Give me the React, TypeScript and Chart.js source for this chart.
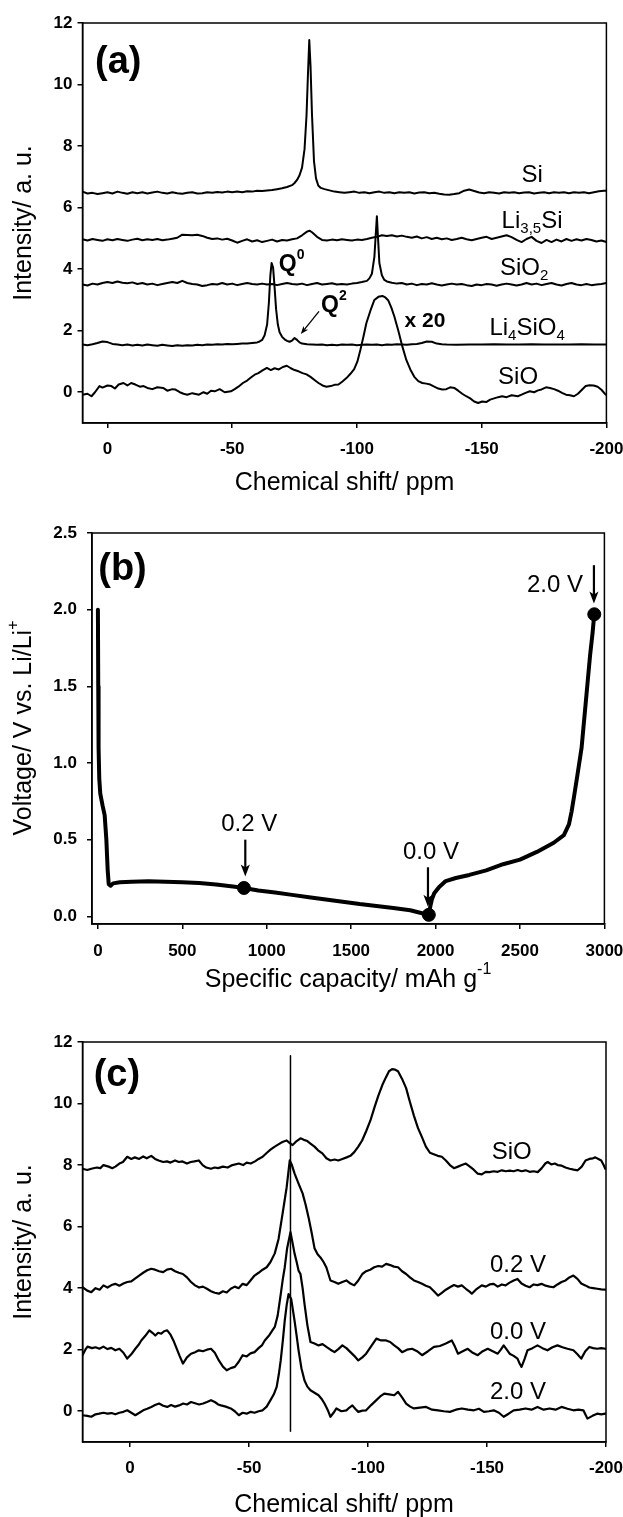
import React, { useEffect, useRef } from 'react';
import { Chart, registerables } from 'chart.js';

Chart.register(...registerables);

type Pt = [number, number];
type Part = { t: string; s?: 'sub' | 'sup' };

const FONT = '"Liberation Sans", Arial, Helvetica, sans-serif';

// ---------------- Panel (a) data: 29Si NMR of references ----------------
const ppmTicksA = [0, -50, -100, -150, -200];
const intensityTicks = [0, 2, 4, 6, 8, 10, 12];

const specSi: Pt[] = [[10,6.52],[8,6.46],[6,6.48],[4,6.44],[2,6.47],[0,6.5],[-2,6.46],[-4,6.52],[-6,6.48],[-8,6.45],[-10,6.5],[-12,6.47],[-14,6.5],[-16,6.46],[-18,6.49],[-20,6.52],[-22,6.48],[-24,6.46],[-26,6.5],[-28,6.47],[-30,6.45],[-32,6.48],[-34,6.5],[-36,6.46],[-38,6.47],[-40,6.5],[-42,6.48],[-44,6.51],[-46,6.49],[-48,6.52],[-50,6.5],[-52,6.52],[-54,6.5],[-56,6.53],[-58,6.52],[-60,6.55],[-62,6.54],[-64,6.56],[-66,6.57],[-68,6.6],[-70,6.63],[-72,6.67],[-74,6.73],[-75,6.8],[-76,6.9],[-77,7.05],[-78,7.3],[-79,7.9],[-79.8,9.0],[-80.4,10.4],[-80.9,11.45],[-81.4,10.6],[-82,9.0],[-82.8,7.5],[-83.6,6.95],[-84.5,6.72],[-85.5,6.64],[-87,6.6],[-89,6.56],[-91,6.52],[-93,6.5],[-95,6.48],[-97,6.5],[-99,6.52],[-101,6.48],[-103,6.5],[-105,6.47],[-107,6.5],[-109,6.52],[-111,6.48],[-113,6.5],[-115,6.47],[-117,6.5],[-119,6.48],[-121,6.5],[-123,6.46],[-125,6.49],[-127,6.5],[-129,6.47],[-131,6.48],[-133,6.45],[-135,6.43],[-137,6.42],[-139,6.44],[-141,6.47],[-143,6.55],[-145,6.59],[-147,6.54],[-149,6.49],[-151,6.47],[-153,6.5],[-155,6.48],[-157,6.46],[-159,6.5],[-161,6.48],[-163,6.5],[-165,6.47],[-167,6.49],[-169,6.5],[-171,6.46],[-173,6.48],[-175,6.5],[-177,6.47],[-179,6.5],[-181,6.48],[-183,6.5],[-185,6.47],[-187,6.5],[-189,6.48],[-191,6.5],[-193,6.47],[-195,6.5],[-197,6.53],[-199,6.55],[-200,6.55]];

const specLi35Si: Pt[] = [[10,4.97],[8,4.93],[6,4.98],[4,4.95],[2,4.92],[0,4.97],[-2,4.94],[-4,4.98],[-6,4.95],[-8,4.92],[-10,4.96],[-12,4.99],[-14,4.94],[-16,4.97],[-18,4.95],[-20,4.98],[-22,4.94],[-24,4.96],[-26,4.99],[-28,5.02],[-30,5.12],[-32,5.11],[-34,5.1],[-36,5.12],[-38,5.08],[-40,5.02],[-42,4.98],[-44,5.0],[-46,4.96],[-48,4.99],[-50,4.93],[-52,4.86],[-54,4.92],[-56,4.97],[-58,4.9],[-60,4.94],[-62,4.88],[-64,4.92],[-66,4.96],[-68,4.9],[-70,4.95],[-72,4.93],[-74,4.97],[-76,5.0],[-78,5.1],[-80,5.22],[-81,5.25],[-82,5.2],[-84,5.05],[-86,4.95],[-88,4.93],[-90,4.96],[-92,4.94],[-94,4.97],[-96,4.95],[-98,4.93],[-100,4.96],[-102,4.95],[-104,4.98],[-106,5.02],[-108,5.05],[-110,5.1],[-112,5.08],[-114,5.1],[-116,5.06],[-118,5.09],[-120,5.05],[-122,5.02],[-124,5.06],[-126,5.0],[-128,5.04],[-130,4.98],[-132,5.02],[-134,4.97],[-136,5.0],[-138,4.95],[-140,4.98],[-142,5.02],[-144,4.97],[-146,4.94],[-148,4.98],[-150,5.02],[-152,5.05],[-154,4.98],[-156,5.02],[-158,5.06],[-160,5.1],[-162,5.04],[-164,4.95],[-166,4.88],[-168,4.98],[-170,5.05],[-172,4.92],[-174,4.85],[-176,4.95],[-178,4.88],[-180,4.96],[-182,4.9],[-184,4.98],[-186,4.92],[-188,4.97],[-190,4.93],[-192,4.98],[-194,4.95],[-196,4.9],[-198,4.93],[-200,4.88]];

const specSiO2: Pt[] = [[10,3.5],[8,3.47],[6,3.53],[4,3.5],[2,3.55],[0,3.58],[-2,3.55],[-4,3.6],[-6,3.56],[-8,3.54],[-10,3.57],[-12,3.52],[-14,3.55],[-16,3.5],[-18,3.53],[-20,3.48],[-22,3.52],[-24,3.55],[-26,3.58],[-28,3.55],[-30,3.62],[-32,3.55],[-34,3.52],[-36,3.5],[-38,3.45],[-40,3.48],[-42,3.52],[-44,3.5],[-46,3.55],[-48,3.5],[-50,3.53],[-52,3.48],[-54,3.52],[-56,3.55],[-58,3.52],[-60,3.5],[-62,3.53],[-64,3.5],[-66,3.52],[-68,3.48],[-70,3.52],[-72,3.55],[-74,3.52],[-76,3.5],[-78,3.53],[-80,3.48],[-82,3.52],[-84,3.55],[-86,3.5],[-88,3.52],[-90,3.54],[-92,3.5],[-94,3.52],[-96,3.5],[-98,3.53],[-100,3.55],[-102,3.58],[-104,3.62],[-105,3.7],[-106,3.85],[-107,4.4],[-107.6,5.2],[-108,5.72],[-108.4,5.1],[-109,4.2],[-110,3.8],[-111,3.65],[-112,3.6],[-114,3.56],[-116,3.53],[-118,3.55],[-120,3.5],[-122,3.53],[-124,3.48],[-126,3.52],[-128,3.5],[-130,3.54],[-132,3.5],[-134,3.47],[-136,3.5],[-138,3.53],[-140,3.5],[-142,3.52],[-144,3.48],[-146,3.45],[-148,3.5],[-150,3.48],[-152,3.52],[-154,3.5],[-156,3.46],[-158,3.5],[-160,3.53],[-162,3.5],[-164,3.47],[-166,3.5],[-168,3.55],[-170,3.5],[-172,3.53],[-174,3.48],[-176,3.52],[-178,3.55],[-180,3.5],[-182,3.47],[-184,3.52],[-186,3.55],[-188,3.5],[-190,3.48],[-192,3.52],[-194,3.48],[-196,3.5],[-198,3.52],[-200,3.55]];

const specLi4SiO4: Pt[] = [[10,1.55],[8,1.53],[6,1.56],[4,1.6],[2,1.65],[0,1.63],[-2,1.57],[-4,1.55],[-6,1.53],[-8,1.55],[-10,1.52],[-12,1.54],[-14,1.52],[-16,1.55],[-18,1.53],[-20,1.51],[-22,1.54],[-24,1.52],[-26,1.5],[-28,1.53],[-30,1.51],[-32,1.53],[-34,1.52],[-36,1.54],[-38,1.53],[-40,1.55],[-42,1.54],[-44,1.56],[-46,1.55],[-48,1.57],[-50,1.56],[-52,1.57],[-54,1.58],[-56,1.58],[-58,1.6],[-60,1.62],[-61,1.65],[-62,1.7],[-63,1.85],[-64,2.2],[-64.7,2.9],[-65.3,3.8],[-65.8,4.2],[-66.4,4.05],[-67,3.4],[-67.6,2.7],[-68.3,2.2],[-69,1.95],[-70,1.8],[-71,1.72],[-72,1.67],[-73,1.64],[-74,1.68],[-75,1.76],[-76,1.7],[-77,1.62],[-78,1.58],[-80,1.56],[-82,1.55],[-84,1.54],[-86,1.55],[-88,1.53],[-90,1.54],[-92,1.53],[-94,1.55],[-96,1.54],[-98,1.55],[-100,1.53],[-102,1.54],[-104,1.55],[-106,1.54],[-108,1.55],[-110,1.53],[-112,1.55],[-114,1.54],[-116,1.56],[-118,1.55],[-120,1.54],[-122,1.56],[-124,1.57],[-126,1.6],[-128,1.65],[-130,1.64],[-132,1.58],[-134,1.56],[-136,1.55],[-140,1.54],[-145,1.55],[-150,1.55],[-155,1.56],[-160,1.55],[-165,1.55],[-170,1.56],[-175,1.55],[-180,1.55],[-185,1.55],[-190,1.56],[-195,1.55],[-200,1.55]];

const specSiOx20: Pt[] = [[10,-0.08],[8,-0.05],[6.4,-0.13],[5,0.0],[3.2,0.2],[2,0.15],[0,0.22],[-1.6,0.2],[-3,0.12],[-4.5,0.25],[-6.4,0.3],[-8,0.22],[-9.5,0.3],[-11.2,0.25],[-13,0.18],[-14.5,0.2],[-16,0.14],[-18,0.1],[-20,0.16],[-22.3,0.14],[-24,0.05],[-26,0.1],[-27.1,0.09],[-29,0.0],[-30.5,-0.05],[-32,-0.08],[-34,-0.03],[-36.7,-0.08],[-38.5,0.0],[-40,-0.05],[-41.5,0.05],[-43,0.03],[-45,0.1],[-47,0.0],[-49.5,0.03],[-51,0.1],[-52.5,0.18],[-54.3,0.3],[-56,0.38],[-57.5,0.48],[-59,0.57],[-60.5,0.62],[-62,0.7],[-63.9,0.79],[-65.5,0.72],[-67,0.78],[-68.7,0.74],[-70.3,0.82],[-71.9,0.86],[-73.5,0.78],[-75,0.72],[-76.6,0.68],[-78.2,0.62],[-79.8,0.58],[-81.4,0.5],[-83,0.4],[-84.6,0.3],[-86.2,0.22],[-87.8,0.18],[-89.5,0.2],[-91,0.24],[-92.6,0.25],[-94.2,0.35],[-95.8,0.46],[-97.4,0.6],[-98.9,0.75],[-100.2,1.0],[-101.4,1.38],[-102.6,1.8],[-103.8,2.25],[-105.4,2.65],[-107,3.0],[-108.6,3.1],[-110.2,3.13],[-111.4,3.08],[-112.6,2.98],[-113.8,2.75],[-115,2.46],[-116.6,2.0],[-118.2,1.49],[-119.8,1.05],[-121.4,0.74],[-123,0.5],[-124.6,0.36],[-126.2,0.3],[-127.8,0.28],[-129.4,0.25],[-131,0.18],[-132.6,0.12],[-134.2,0.09],[-135.8,0.1],[-137.4,0.16],[-139,0.14],[-140.6,0.05],[-142.2,-0.05],[-143.8,-0.13],[-145.4,-0.2],[-147,-0.3],[-148.6,-0.35],[-150.2,-0.3],[-151.8,-0.32],[-153.4,-0.24],[-155,-0.2],[-156.6,-0.16],[-158.2,-0.13],[-160,-0.16],[-162,-0.1],[-164.5,-0.13],[-166,-0.08],[-167.6,-0.02],[-169.3,0.03],[-171,0.0],[-172.6,0.06],[-174,0.09],[-175.8,0.16],[-177.4,0.14],[-179,0.1],[-180.6,0.05],[-182.2,-0.02],[-183.8,-0.08],[-185.4,-0.1],[-187,-0.13],[-188.6,-0.05],[-190.2,0.08],[-191.7,0.2],[-193.3,0.23],[-194.9,0.22],[-196.5,0.18],[-198,0.08],[-199.7,-0.08]];

// ---------------- Panel (b) data: voltage profile ----------------
const capacityTicks = [0, 500, 1000, 1500, 2000, 2500, 3000];
const voltageTicks = [0, 0.5, 1.0, 1.5, 2.0, 2.5];
const dischargeCurve: Pt[] = [[0,2.0],[2,1.5],[4,1.1],[8,0.9],[14,0.8],[28,0.72],[40,0.66],[50,0.5],[58,0.3],[64,0.21],[75,0.2],[90,0.215],[130,0.222],[200,0.226],[300,0.228],[400,0.226],[500,0.222],[600,0.217],[700,0.208],[800,0.195],[865,0.185],[950,0.168],[1050,0.155],[1150,0.14],[1250,0.125],[1350,0.11],[1450,0.095],[1550,0.08],[1650,0.068],[1750,0.055],[1850,0.04],[1920,0.02],[1960,0.005]];
const chargeCurve: Pt[] = [[1960,0.01],[1968,0.06],[1978,0.11],[1992,0.15],[2020,0.19],[2060,0.23],[2120,0.25],[2200,0.27],[2300,0.3],[2400,0.34],[2500,0.37],[2600,0.42],[2700,0.48],[2760,0.53],[2790,0.6],[2805,0.68],[2820,0.78],[2840,0.92],[2865,1.1],[2890,1.4],[2915,1.7],[2930,1.85],[2940,1.97]];
const samplingPoints: Pt[] = [[865,0.185],[1960,0.01],[2940,1.97]];

// ---------------- Panel (c) data: ex-situ spectra ----------------
const ppmTicksC = [0, -50, -100, -150, -200];
const specCSiO: Pt[] = [[20,7.88],[18,7.84],[16.3,7.88],[14,7.92],[12.5,7.9],[11.2,8.0],[9,7.95],[7.5,7.9],[6.2,7.95],[4.5,8.05],[3,8.1],[1.2,8.27],[-0.5,8.2],[-2,8.25],[-3.8,8.2],[-5.5,8.28],[-7,8.22],[-8.9,8.3],[-10.5,8.2],[-12,8.15],[-13.9,8.1],[-15.5,8.12],[-17,8.08],[-18.9,8.15],[-20.5,8.1],[-22,8.12],[-23.9,8.05],[-25.5,8.1],[-27,8.12],[-28.9,8.15],[-30.5,8.0],[-32,7.92],[-34,7.88],[-35.5,7.92],[-37,7.9],[-39,7.95],[-41,7.92],[-43,8.0],[-45.7,8.05],[-47.5,8.0],[-49,8.08],[-50.7,8.05],[-52.5,8.12],[-54,8.2],[-55.7,8.27],[-57.5,8.4],[-59,8.5],[-60.8,8.6],[-62.5,8.68],[-64,8.75],[-65.8,8.8],[-67,8.72],[-68.3,8.65],[-70,8.78],[-71.6,8.87],[-73,8.82],[-74.5,8.78],[-75.8,8.7],[-77.5,8.6],[-79,8.48],[-80.8,8.38],[-82.5,8.22],[-84.2,8.15],[-86,8.18],[-87.5,8.15],[-89.2,8.2],[-91,8.25],[-92.6,8.3],[-94.2,8.42],[-95.9,8.6],[-97.5,8.8],[-99.2,9.1],[-101,9.45],[-102.6,9.85],[-104.3,10.25],[-106,10.6],[-107.5,10.85],[-108.8,11.05],[-110.1,11.12],[-111.4,11.1],[-112.6,11.05],[-114.3,10.8],[-116,10.5],[-117.6,10.05],[-119.3,9.6],[-121,9.2],[-122.7,8.9],[-124.3,8.6],[-126,8.4],[-127.6,8.35],[-129.3,8.3],[-131,8.27],[-132.7,8.15],[-134.4,8.0],[-136.1,7.9],[-137.8,7.95],[-139.4,8.0],[-141.1,8.05],[-142.8,7.95],[-144.4,7.85],[-146.1,7.72],[-147.8,7.7],[-149.4,7.78],[-151.1,7.77],[-152.8,7.8],[-154.5,7.78],[-156.2,7.83],[-157.9,7.8],[-159.5,7.82],[-161.2,7.8],[-162.9,7.84],[-164.5,7.8],[-166.2,7.83],[-167.9,7.78],[-169.6,7.8],[-171.3,7.77],[-173,7.9],[-174.5,8.05],[-175.5,8.1],[-177,8.02],[-178.5,8.05],[-179.7,8.0],[-181.4,7.98],[-183,7.92],[-184.7,7.88],[-186.4,7.85],[-188.1,7.83],[-189.8,7.95],[-191.4,8.15],[-193,8.2],[-194.5,8.22],[-195.5,8.25],[-196.8,8.2],[-198,8.15],[-199,8.0],[-199.7,7.88]];

const specC02V: Pt[] = [[20,4.03],[18,3.92],[16.3,3.87],[14.5,4.0],[12.8,3.95],[11.2,4.09],[9.5,4.02],[7.8,4.1],[6.2,4.14],[4.5,4.08],[2.8,4.15],[1.2,4.2],[-0.5,4.22],[-2.2,4.32],[-3.8,4.41],[-5.5,4.5],[-7.2,4.58],[-8.9,4.63],[-10.5,4.6],[-12.2,4.55],[-13.9,4.52],[-15.5,4.6],[-17.2,4.63],[-18.9,4.55],[-20.5,4.5],[-22.2,4.46],[-23.9,4.35],[-25.6,4.2],[-27.3,4.09],[-29,4.02],[-30.6,4.05],[-32.3,3.98],[-34,3.9],[-35.6,3.85],[-37.3,3.82],[-39,3.9],[-40.6,3.86],[-42.3,3.98],[-44,4.05],[-45.6,4.0],[-47.3,4.14],[-49,4.1],[-50.6,4.25],[-52.3,4.41],[-54,4.5],[-55.7,4.6],[-57.4,4.68],[-59,4.85],[-60.8,5.13],[-62.4,5.6],[-64.1,6.43],[-65.8,7.28],[-67.1,8.15],[-68,8.0],[-69.1,7.73],[-70.8,7.4],[-72.5,7.08],[-73.8,6.7],[-75,6.3],[-76.3,5.8],[-77.5,5.3],[-78.8,5.1],[-80,5.0],[-81.3,4.85],[-82.5,4.67],[-84.2,4.25],[-85.9,4.2],[-87.5,4.14],[-89.2,4.2],[-90.9,4.25],[-92.6,4.15],[-94.2,4.09],[-95.9,4.25],[-97.6,4.46],[-99.2,4.55],[-100.9,4.6],[-102.6,4.68],[-104.3,4.72],[-105.9,4.7],[-107.6,4.79],[-109.3,4.75],[-110.9,4.7],[-112.6,4.68],[-114.3,4.55],[-116,4.46],[-117.6,4.35],[-119.3,4.25],[-121,4.2],[-122.7,4.14],[-124.3,4.08],[-126,4.03],[-127.7,3.9],[-129.4,3.76],[-131,3.85],[-132.7,3.95],[-134.4,4.03],[-136.1,4.1],[-137.8,4.05],[-139.4,4.09],[-141.1,3.98],[-142.8,3.88],[-143.6,3.82],[-145.3,3.95],[-147.8,4.09],[-149.5,4.05],[-151.1,4.12],[-152.8,4.14],[-154.5,4.05],[-156.2,4.12],[-157.8,4.09],[-159.5,4.18],[-161.2,4.25],[-162.8,4.3],[-164.5,4.15],[-166.2,4.08],[-167.9,4.03],[-169.6,4.12],[-171.2,4.1],[-172.9,4.14],[-174.6,4.08],[-176.3,4.05],[-177.9,4.03],[-179.6,4.12],[-181.3,4.2],[-183,4.25],[-184.6,4.35],[-186.3,4.41],[-188,4.3],[-189.6,4.15],[-191.3,4.09],[-193,4.02],[-194.6,4.0],[-196.3,3.98],[-198,3.96],[-199.7,3.95]];

const specC00V: Pt[] = [[20,1.82],[18.8,2.0],[17.9,2.1],[16,2.05],[14.5,2.08],[12.9,2.03],[11.2,2.1],[9.5,2.02],[7.9,2.06],[6.2,1.98],[4.5,2.03],[2.8,1.9],[1.2,1.71],[-0.5,1.85],[-2.2,2.03],[-3.5,2.15],[-4.7,2.3],[-6.4,2.45],[-8.1,2.63],[-9.4,2.55],[-10.6,2.46],[-11.8,2.55],[-13.1,2.52],[-14.3,2.6],[-15.6,2.63],[-16.9,2.5],[-18.2,2.3],[-19.5,2.05],[-20.8,1.8],[-22.2,1.55],[-23.9,1.75],[-25.6,1.87],[-27.3,1.92],[-28.9,1.98],[-30.6,1.95],[-32.3,2.0],[-34,2.03],[-35.6,1.9],[-37.3,1.65],[-39,1.45],[-40.6,1.33],[-42.3,1.4],[-44,1.44],[-45.6,1.6],[-47.3,1.82],[-49,1.78],[-50.6,1.88],[-52.3,1.92],[-54,2.05],[-55.5,2.15],[-56.6,2.3],[-58.3,2.45],[-59.6,2.6],[-60.8,2.74],[-62,3.1],[-63.3,3.8],[-64.2,4.3],[-65,4.68],[-66,5.3],[-67.4,5.82],[-68.2,5.5],[-69.1,5.13],[-70,4.85],[-70.8,4.57],[-71.6,4.46],[-72.5,4.0],[-73.3,3.49],[-74.5,2.8],[-75.8,2.25],[-77.5,2.2],[-79.2,2.14],[-80.9,2.18],[-82.5,2.09],[-84.2,2.0],[-85.9,1.92],[-87.5,2.02],[-89.2,2.14],[-90.9,2.05],[-92.6,1.92],[-94.2,1.8],[-95.9,1.65],[-97.6,1.75],[-99.2,1.87],[-101.2,2.1],[-103.5,2.36],[-105.5,2.3],[-107.6,2.3],[-109.3,2.25],[-111,2.14],[-112.6,2.05],[-114.3,1.92],[-116.4,2.0],[-118.5,2.03],[-120.6,1.95],[-122.7,1.82],[-125.2,1.95],[-127.7,2.09],[-130.2,2.12],[-132.7,2.2],[-135.2,2.3],[-136.5,2.1],[-137.8,1.87],[-139.8,1.95],[-141.9,2.03],[-144,1.9],[-146.1,1.82],[-148.2,1.95],[-150.3,2.03],[-152.4,1.95],[-154.5,1.87],[-155.8,2.0],[-157,2.14],[-158.3,2.0],[-159.5,1.87],[-161.2,1.8],[-162.8,1.71],[-163.7,1.55],[-164.5,1.44],[-165.8,1.7],[-167,1.98],[-169.1,2.05],[-171.2,2.14],[-173.3,2.05],[-175.4,1.98],[-177.5,2.08],[-179.6,2.14],[-181.7,2.08],[-183.8,2.03],[-186.3,1.98],[-188,1.85],[-189.6,1.71],[-191.3,1.95],[-193,2.09],[-194.6,2.05],[-196.3,2.03],[-198,2.05],[-199.7,2.03]];

const specC20V: Pt[] = [[20,-0.13],[18,-0.15],[16.3,-0.18],[14.5,-0.1],[13,-0.08],[11.2,-0.05],[9.5,-0.08],[7.8,-0.06],[6.2,-0.1],[4.5,-0.05],[2.8,-0.02],[1.2,0.03],[-0.5,-0.05],[-2.2,-0.13],[-3.9,-0.05],[-5.5,0.03],[-7.2,0.08],[-8.9,0.14],[-10.5,0.2],[-12.2,0.25],[-13.9,0.18],[-15.6,0.14],[-17.2,0.2],[-18.9,0.15],[-20.6,0.19],[-22.3,0.25],[-23.9,0.22],[-25.6,0.3],[-27.3,0.26],[-29,0.22],[-30.7,0.25],[-32.3,0.3],[-34,0.36],[-35.6,0.3],[-37,0.22],[-38.2,0.19],[-40.2,0.15],[-42.3,0.09],[-44,0.0],[-45.7,-0.13],[-47.3,-0.05],[-49,-0.08],[-50.7,-0.02],[-52.3,-0.05],[-54,0.0],[-55.7,0.03],[-57.4,0.15],[-59,0.36],[-60.4,0.55],[-61.6,0.79],[-62.5,1.2],[-63.3,1.65],[-64.2,2.3],[-65,2.95],[-65.8,3.45],[-66.6,3.81],[-67.7,3.65],[-68.4,3.3],[-69.1,2.95],[-70,2.45],[-70.8,1.98],[-72,1.4],[-73.3,1.0],[-74.5,0.8],[-75.8,0.68],[-77.5,0.6],[-79.2,0.52],[-80.5,0.4],[-81.7,0.25],[-83,0.05],[-84.2,-0.18],[-85.5,-0.05],[-86.7,0.09],[-88.8,0.0],[-90.9,0.03],[-92.2,0.12],[-93.4,0.19],[-94.6,0.08],[-95.9,-0.02],[-97.6,0.02],[-99.2,0.03],[-101.3,0.2],[-103.5,0.36],[-105.1,0.48],[-106.8,0.57],[-108.9,0.55],[-111,0.52],[-112.6,0.63],[-114.3,0.45],[-116,0.25],[-117.7,0.15],[-119.3,0.09],[-121.8,0.12],[-124.4,0.14],[-126.9,0.05],[-129.4,0.03],[-131.9,0.0],[-134.4,-0.02],[-136.9,0.05],[-139.4,0.09],[-142,0.05],[-144.5,0.03],[-146.6,0.08],[-148.7,-0.02],[-150.8,0.0],[-152.8,0.03],[-155,-0.05],[-157,-0.18],[-159.1,-0.08],[-161.2,0.03],[-163.7,0.05],[-166.2,0.09],[-168.7,0.05],[-171.2,0.14],[-173.8,0.05],[-176.3,0.09],[-178.8,0.05],[-181.3,0.14],[-183.8,0.08],[-186.3,0.03],[-188.4,0.05],[-190.5,0.03],[-191.3,-0.1],[-192.2,-0.24],[-194.3,-0.15],[-196.3,-0.08],[-198,-0.1],[-199.7,-0.08]];

const referenceLineC: Pt[] = [[-67.4, 11.55], [-67.4, -0.65]];

// ---------------- Types & helpers ----------------
interface Label { x: number; y: number; parts: Part[]; size: number; bold?: boolean; align?: 'left' | 'center' }
interface Arrow { x1: number; y1: number; x2: number; y2: number; w?: number; head?: number }
interface Title { x: number; y: number; parts: Part[]; rotate?: boolean }
interface Series { pts: Pt[]; width: number }
interface Panel {
  top: number; height: number;
  left: number; right: number; areaTop: number; areaBottom: number;
  xMin: number; xMax: number; reverse: boolean; xTicks: number[]; xFmt: (v: number) => string; xPad: number;
  yMin: number; yMax: number; yTicks: number[]; yFmt: (v: number) => string; yPad: number;
  series: Series[]; markers?: Pt[];
  labels: Label[]; arrows: Arrow[]; titles: Title[];
}

const TITLE_SIZE = 25;
const LABEL_SIZE = 24;
const TICK_SIZE = 17;

function drawRich(ctx: CanvasRenderingContext2D, parts: Part[], x: number, y: number, size: number, bold: boolean, align: 'left' | 'center', rotate: boolean) {
  const fontOf = (s: number) => `${bold ? 'bold ' : ''}${s}px ${FONT}`;
  const small = Math.round(size * 0.62);
  let total = 0;
  const widths = parts.map((p) => {
    ctx.font = fontOf(p.s ? small : size);
    const w = ctx.measureText(p.t).width;
    total += w;
    return w;
  });
  ctx.save();
  ctx.translate(x, y);
  if (rotate) ctx.rotate(-Math.PI / 2);
  ctx.textBaseline = 'middle';
  ctx.textAlign = 'left';
  ctx.fillStyle = '#000';
  let cx = align === 'center' ? -total / 2 : 0;
  parts.forEach((p, i) => {
    ctx.font = fontOf(p.s ? small : size);
    const dy = p.s === 'sub' ? size * 0.32 : p.s === 'sup' ? -size * 0.42 : 0;
    ctx.fillText(p.t, cx, dy);
    cx += widths[i];
  });
  ctx.restore();
}

function annotationPlugin(p: Panel) {
  return {
    id: 'annotations',
    afterDatasetsDraw(chart: any) {
      const ctx: CanvasRenderingContext2D = chart.ctx;
      const { left, right, top, bottom } = chart.chartArea;
      const xs = chart.scales.x;
      const ys = chart.scales.y;
      ctx.save();
      ctx.strokeStyle = '#000';
      ctx.lineWidth = 1.5;
      ctx.strokeRect(left, top, right - left, bottom - top);
      ctx.fillStyle = '#000';
      for (const a of p.arrows) {
        const x1 = xs.getPixelForValue(a.x1), y1 = ys.getPixelForValue(a.y1);
        const x2 = xs.getPixelForValue(a.x2), y2 = ys.getPixelForValue(a.y2);
        const ang = Math.atan2(y2 - y1, x2 - x1);
        const hl = a.head ?? 12, hw = hl * 0.38;
        const c = Math.cos(ang), s = Math.sin(ang);
        ctx.lineWidth = a.w ?? 2.2;
        ctx.beginPath();
        ctx.moveTo(x1, y1);
        ctx.lineTo(x2 - c * hl * 0.7, y2 - s * hl * 0.7);
        ctx.stroke();
        ctx.beginPath();
        ctx.moveTo(x2, y2);
        ctx.lineTo(x2 - c * hl - s * hw, y2 - s * hl + c * hw);
        ctx.lineTo(x2 - c * hl * 0.75, y2 - s * hl * 0.75);
        ctx.lineTo(x2 - c * hl + s * hw, y2 - s * hl - c * hw);
        ctx.closePath();
        ctx.fill();
      }
      for (const l of p.labels) {
        drawRich(ctx, l.parts, xs.getPixelForValue(l.x), ys.getPixelForValue(l.y), l.size, !!l.bold, l.align || 'center', false);
      }
      for (const t of p.titles) {
        drawRich(ctx, t.parts, t.x, t.y, TITLE_SIZE, false, 'center', !!t.rotate);
      }
      ctx.restore();
    },
  };
}

function buildConfig(p: Panel): any {
  const datasets: any[] = p.series.map((s) => ({
    data: s.pts.map(([x, y]) => ({ x, y })),
    showLine: true,
    borderColor: '#000',
    borderWidth: s.width,
    pointRadius: 0,
    fill: false,
    tension: 0,
    borderJoinStyle: 'round',
    borderCapStyle: 'round',
  }));
  if (p.markers) {
    datasets.push({
      data: p.markers.map(([x, y]) => ({ x, y })),
      showLine: false,
      pointRadius: 6.5,
      pointBackgroundColor: '#000',
      pointBorderColor: '#000',
      clip: false,
    });
  }
  const tickFont = { family: FONT, size: TICK_SIZE, weight: 'bold' };
  return {
    type: 'scatter',
    data: { datasets },
    options: {
      responsive: false,
      maintainAspectRatio: false,
      animation: false,
      devicePixelRatio: 1,
      events: [],
      layout: { padding: { top: p.areaTop, right: 623 - p.right, left: 0, bottom: 0 } },
      plugins: { legend: { display: false }, tooltip: { enabled: false }, title: { display: false } },
      scales: {
        x: {
          type: 'linear',
          min: p.xMin,
          max: p.xMax,
          reverse: p.reverse,
          afterBuildTicks: (s: any) => { s.ticks = p.xTicks.map((v) => ({ value: v })); },
          afterFit: (s: any) => { s.height = p.height - p.areaBottom; s.paddingLeft = 0; s.paddingRight = 0; },
          grid: { display: true, drawOnChartArea: false, drawTicks: true, tickLength: 5, color: '#000', lineWidth: 1.5 },
          border: { display: true, color: '#000', width: 1.5 },
          ticks: { color: '#000', font: tickFont, padding: p.xPad, maxRotation: 0, autoSkip: false, callback: (v: any) => p.xFmt(Number(v)) },
          title: { display: false },
        },
        y: {
          type: 'linear',
          min: p.yMin,
          max: p.yMax,
          afterBuildTicks: (s: any) => { s.ticks = p.yTicks.map((v) => ({ value: v })); },
          afterFit: (s: any) => { s.width = p.left; s.paddingTop = 0; s.paddingBottom = 0; },
          grid: { display: true, drawOnChartArea: false, drawTicks: true, tickLength: 5, color: '#000', lineWidth: 1.5 },
          border: { display: true, color: '#000', width: 1.5 },
          ticks: { color: '#000', font: tickFont, padding: p.yPad, autoSkip: false, callback: (v: any) => p.yFmt(Number(v)) },
          title: { display: false },
        },
      },
    },
    plugins: [annotationPlugin(p)],
  };
}

const intFmt = (v: number) => String(v);
const oneDec = (v: number) => v.toFixed(1);

const panelA: Panel = {
  top: 0, height: 500, left: 82.5, right: 606.4, areaTop: 23, areaBottom: 423,
  xMin: -200, xMax: 10, reverse: true, xTicks: ppmTicksA, xFmt: intFmt, xPad: 11,
  yMin: -1, yMax: 12, yTicks: intensityTicks, yFmt: intFmt, yPad: 5,
  series: [
    { pts: specSi, width: 2 },
    { pts: specLi35Si, width: 2 },
    { pts: specSiO2, width: 2 },
    { pts: specLi4SiO4, width: 2 },
    { pts: specSiOx20, width: 2 },
  ],
  labels: [
    { x: 5, y: 10.7, parts: [{ t: '(a)' }], size: 38, bold: true, align: 'left' },
    { x: -170.2, y: 7.06, parts: [{ t: 'Si' }], size: LABEL_SIZE },
    { x: -170.2, y: 5.56, parts: [{ t: 'Li' }, { t: '3,5', s: 'sub' }, { t: 'Si' }], size: LABEL_SIZE },
    { x: -167, y: 4.03, parts: [{ t: 'SiO' }, { t: '2', s: 'sub' }], size: LABEL_SIZE },
    { x: -168.2, y: 2.08, parts: [{ t: 'Li' }, { t: '4', s: 'sub' }, { t: 'SiO' }, { t: '4', s: 'sub' }], size: LABEL_SIZE },
    { x: -164.6, y: 0.49, parts: [{ t: 'SiO' }], size: LABEL_SIZE },
    { x: -127.3, y: 2.31, parts: [{ t: 'x 20' }], size: 21, bold: true },
    { x: -68.7, y: 4.13, parts: [{ t: 'Q' }, { t: '0', s: 'sup' }], size: 23, bold: true, align: 'left' },
    { x: -85.6, y: 2.8, parts: [{ t: 'Q' }, { t: '2', s: 'sup' }], size: 23, bold: true, align: 'left' },
  ],
  arrows: [{ x1: -84.8, y1: 2.63, x2: -77.5, y2: 1.89, w: 1.3, head: 8 }],
  titles: [
    { x: 344.5, y: 483, parts: [{ t: 'Chemical shift/ ppm' }] },
    { x: 24, y: 223, parts: [{ t: 'Intensity/ a. u.' }], rotate: true },
  ],
};

const panelB: Panel = {
  top: 500, height: 500, left: 92, right: 604.4, areaTop: 33, areaBottom: 424,
  xMin: -35, xMax: 3000, reverse: false, xTicks: capacityTicks, xFmt: intFmt, xPad: 12,
  yMin: -0.05, yMax: 2.5, yTicks: voltageTicks, yFmt: oneDec, yPad: 10,
  series: [
    { pts: dischargeCurve, width: 4 },
    { pts: chargeCurve, width: 4 },
  ],
  markers: samplingPoints,
  labels: [
    { x: 2, y: 2.26, parts: [{ t: '(b)' }], size: 38, bold: true, align: 'left' },
    { x: 2707, y: 2.158, parts: [{ t: '2.0 V' }], size: LABEL_SIZE },
    { x: 896, y: 0.597, parts: [{ t: '0.2 V' }], size: LABEL_SIZE },
    { x: 1973, y: 0.42, parts: [{ t: '0.0 V' }], size: LABEL_SIZE },
  ],
  arrows: [
    { x1: 873, y1: 0.5, x2: 873, y2: 0.26 },
    { x1: 1955, y1: 0.32, x2: 1955, y2: 0.063 },
    { x1: 2938, y1: 2.29, x2: 2938, y2: 2.04 },
  ],
  titles: [
    { x: 348, y: 480, parts: [{ t: 'Specific capacity/ mAh g' }, { t: '-1', s: 'sup' }] },
    { x: 24, y: 228, parts: [{ t: 'Voltage/ V vs. Li/Li' }, { t: '+', s: 'sup' }], rotate: true },
  ],
};

const panelC: Panel = {
  top: 1000, height: 517, left: 82.5, right: 606, areaTop: 42, areaBottom: 442,
  xMin: -200, xMax: 20, reverse: true, xTicks: ppmTicksC, xFmt: intFmt, xPad: 11,
  yMin: -1, yMax: 12, yTicks: intensityTicks, yFmt: intFmt, yPad: 5,
  series: [
    { pts: specCSiO, width: 2.2 },
    { pts: specC02V, width: 2.2 },
    { pts: specC00V, width: 2.2 },
    { pts: specC20V, width: 2.2 },
    { pts: referenceLineC, width: 1.5 },
  ],
  labels: [
    { x: 15.3, y: 10.9, parts: [{ t: '(c)' }], size: 38, bold: true, align: 'left' },
    { x: -160.4, y: 8.42, parts: [{ t: 'SiO' }], size: LABEL_SIZE },
    { x: -163, y: 4.75, parts: [{ t: '0.2 V' }], size: LABEL_SIZE },
    { x: -163, y: 2.57, parts: [{ t: '0.0 V' }], size: LABEL_SIZE },
    { x: -163, y: 0.62, parts: [{ t: '2.0 V' }], size: LABEL_SIZE },
  ],
  arrows: [],
  titles: [
    { x: 344, y: 505, parts: [{ t: 'Chemical shift/ ppm' }] },
    { x: 24, y: 242, parts: [{ t: 'Intensity/ a. u.' }], rotate: true },
  ],
};

const panels: Panel[] = [panelA, panelB, panelC];

function PanelChart({ p }: { p: Panel }) {
  const ref = useRef<HTMLCanvasElement | null>(null);
  useEffect(() => {
    if (!ref.current) return;
    const chart = new Chart(ref.current, buildConfig(p));
    return () => chart.destroy();
  }, [p]);
  return (
    <canvas
      ref={ref}
      width={623}
      height={p.height}
      style={{ position: 'absolute', left: 0, top: p.top, width: 623, height: p.height, display: 'block' }}
    />
  );
}

export default function App() {
  return (
    <div style={{ position: 'absolute', left: 0, top: 0, width: 623, height: 1517, background: '#fff', overflow: 'hidden' }}>
      {panels.map((p, i) => (
        <PanelChart key={i} p={p} />
      ))}
    </div>
  );
}
